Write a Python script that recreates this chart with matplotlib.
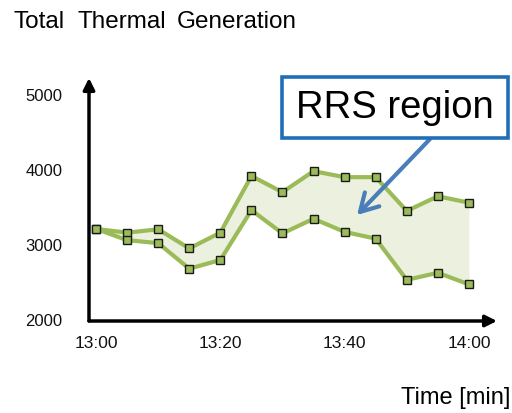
import matplotlib
matplotlib.use('Agg')
import numpy as np
from matplotlib import pyplot as plt
from matplotlib.patches import Rectangle

plt.rcParams['font.family'] = ['Liberation Sans', 'DejaVu Sans']

# minutes after 13:00
minutes = [0, 5, 10, 15, 20, 25, 30, 35, 40, 45, 50, 55, 60]
upper = [3215, 3165, 3210, 2955, 3165, 3920, 3705, 3985, 3905, 3905, 3455, 3650, 3565]
lower = [3215, 3065, 3025, 2685, 2800, 3465, 3155, 3350, 3175, 3085, 2535, 2630, 2475]
xtick_pos = [0, 20, 40, 60]
xtick_labels = ['13:00', '13:20', '13:40', '14:00']
ytick_pos = [2000, 3000, 4000, 5000]
title_words = ['Total', 'Thermal', 'Generation']

W, H = 512, 413
fig = plt.figure(figsize=(W / 100, H / 100), dpi=100)

# axes box in pixels: x 89..500, y 78..321
ax = fig.add_axes([89 / W, 1 - 321 / H, (500 - 89) / W, (321 - 78) / H])
ax.set_xlim(-1.13, 65.0)
ax.set_ylim(1987, 5227)
for s in ax.spines.values():
    s.set_visible(False)

green = '#9bbb59'
ax.fill_between(minutes, lower, upper, color='#ebf1de', lw=0)
for series in (upper, lower):
    ax.plot(minutes, series, color=green, lw=3, marker='s', ms=5.8,
            mfc=green, mec='#1a1a1a', mew=1.0, zorder=3)

ax.set_xticks(xtick_pos)
ax.set_xticklabels(xtick_labels)
ax.set_yticks(ytick_pos)
ax.set_yticklabels([str(v) for v in ytick_pos])
ax.tick_params(axis='both', length=0, labelcolor='#111111')
ax.tick_params(axis='x', labelsize=12.5, pad=11)
ax.tick_params(axis='y', labelsize=12, pad=19)

# axis arrows
arrow_kw = dict(arrowstyle='-|>', color='black', lw=2.5, mutation_scale=17,
                shrinkA=0, shrinkB=0)
ax.annotate('', xy=(0, 1), xytext=(0, 0), xycoords='axes fraction',
            arrowprops=arrow_kw, annotation_clip=False)
ax.annotate('', xy=((497 - 89) / (500 - 89), 0), xytext=(0, 0),
            xycoords='axes fraction', arrowprops=arrow_kw, annotation_clip=False)

# title, with the wide word gaps of the original
for word, px in zip(title_words, [14, 77, 177]):
    fig.text(px / W, 1 - 22 / H, word, fontsize=17.5, va='center', ha='left')
fig.text(510 / W, 1 - 398 / H, 'Time [min]', fontsize=17, va='center', ha='right')

# callout box
fig.add_artist(Rectangle((282 / W, 1 - 138 / H), 226 / W, 61 / H,
                         transform=fig.transFigure, facecolor='white',
                         edgecolor='#1f6fb8', lw=2.6, zorder=5))
fig.text(395 / W, 1 - 108 / H, 'RRS region', fontsize=27.5, va='center',
         ha='center', zorder=6)
ax.annotate('', xy=(42, 3400), xycoords='data',
            xytext=(430 / W, 1 - 139 / H), textcoords='figure fraction',
            arrowprops=dict(arrowstyle='->,head_length=0.7,head_width=0.4',
                            color='#4a7ebb', lw=3, mutation_scale=18,
                            shrinkA=0, shrinkB=0),
            zorder=4)

fig.savefig('out.png', dpi=100)
